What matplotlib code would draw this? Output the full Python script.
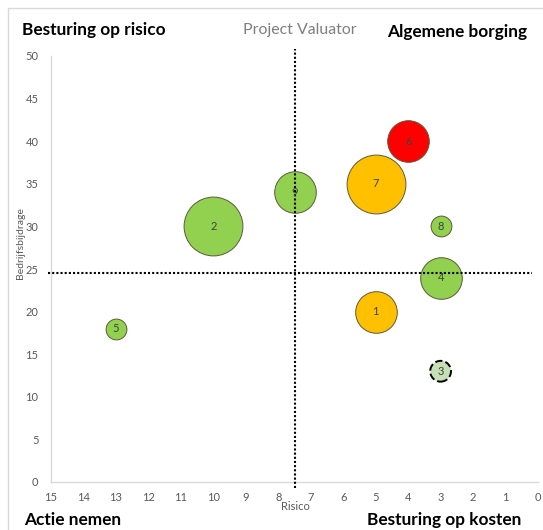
import matplotlib
matplotlib.use("Agg")
import matplotlib.pyplot as plt
from matplotlib.patches import Rectangle

plt.rcParams['font.family'] = ['Lato', 'DejaVu Sans']

# ---- data ----
labels = ["1", "2", "3", "4", "5", "6", "7", "8", "9"]
risico = [5, 10, 3, 3, 13, 4, 5, 3, 7.5]
bijdrage = [20, 30, 13, 24, 18, 40, 35, 30, 34]
bubble_size = [4, 8, 1, 4, 1, 4, 8, 1, 4]
colors = ["#FFC000", "#92D050", "#C5E0B4", "#92D050", "#92D050",
          "#FF0000", "#FFC000", "#92D050", "#92D050"]
dashed = [False, False, True, False, False, False, False, False, False]
x_split = 7.5
y_split = 24.5
x_ticks = list(range(0, 16))
y_ticks = list(range(0, 51, 5))

W, H = 543, 530
fig = plt.figure(figsize=(W / 100, H / 100), dpi=100)

def fx(px):
    return px / W

def fy(py):
    return 1 - py / H

# chart border
fig.patches.append(Rectangle((fx(8), fy(560)), 1.2, fy(8) - fy(560), transform=fig.transFigure,
                             fill=False, edgecolor="#D9D9D9", linewidth=1, zorder=0))

ax = fig.add_axes([fx(51), fy(482), fx(538) - fx(51), fy(56) - fy(482)])
ax.set_xlim(15, 0)
ax.set_ylim(0, 50)

for s in ["top", "right"]:
    ax.spines[s].set_visible(False)
for s in ["left", "bottom"]:
    ax.spines[s].set_color("#D9D9D9")
    ax.spines[s].set_linewidth(1)

ax.set_xticks(x_ticks)
ax.set_yticks(y_ticks)
ax.tick_params(axis="both", length=0, labelsize=8, labelcolor="#595959")
ax.tick_params(axis="x", pad=7)
ax.tick_params(axis="y", pad=9)

# quadrant lines
ax.plot([x_split, x_split], [-0.7, 50.8], color="black", lw=1.5,
        linestyle=(0, (1, 1)), clip_on=False, zorder=3)
ax.plot([15.1, 0.2], [y_split, y_split], color="black", lw=1.5,
        linestyle=(0, (1, 1)), clip_on=False, zorder=3)

r_unit = 10.4  # px radius for size 1
for x, y, sz, c, d, lab in zip(risico, bijdrage, bubble_size, colors, dashed, labels):
    r_pt = r_unit * sz ** 0.5 * 72 / 100
    s = (2 * r_pt) ** 2
    if d:
        ax.scatter([x], [y], s=s, c=c, edgecolors="black", linewidths=1.4,
                   linestyles="--", zorder=2)
    else:
        ax.scatter([x], [y], s=s, c=c, edgecolors="#5A5A3A", linewidths=0.7, zorder=2)
    ax.text(x, y, lab, ha="center", va="center", fontsize=8, color="#404040", zorder=4)

# axis labels
fig.text(fx(20), fy(243), "Bedrijfsbijdrage", rotation=90, ha="center", va="center",
         fontsize=7.5, color="#595959")
fig.text(fx(295), fy(507), "Risico", ha="center", va="center", fontsize=8, color="#595959")

# titles / quadrant names
fig.text(fx(22), fy(30), "Besturing op risico", ha="left", va="center",
         fontsize=12.4, fontweight="bold", color="black")
fig.text(fx(300), fy(30), "Project Valuator", ha="center", va="center",
         fontsize=11.4, color="#7F7F7F")
fig.text(fx(527), fy(32), "Algemene borging", ha="right", va="center",
         fontsize=12.4, fontweight="bold", color="black")
fig.text(fx(24), fy(520), "Actie nemen", ha="left", va="center",
         fontsize=12.4, fontweight="bold", color="black")
fig.text(fx(521), fy(520), "Besturing op kosten", ha="right", va="center",
         fontsize=12.4, fontweight="bold", color="black")

fig.savefig("out.png", dpi=100)
